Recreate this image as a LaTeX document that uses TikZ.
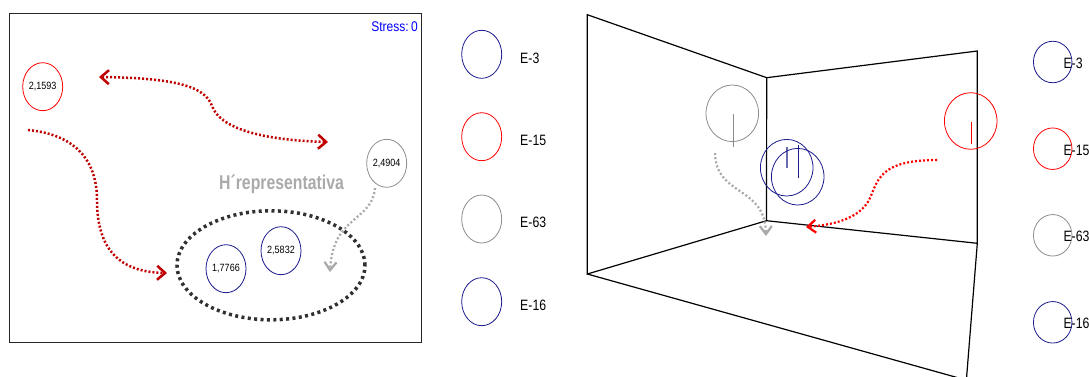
\documentclass[tikz,border=0pt]{standalone}
\usepackage{fontspec}
\setmainfont{Liberation Sans}
\newfontfamily\legfont{Liberation Sans}[FakeStretch=0.82]
\newfontfamily\numfont{Liberation Sans}[FakeStretch=0.86]
\newfontfamily\hfont{Liberation Sans Bold}[FakeStretch=0.79]
\usetikzlibrary{arrows.meta,shapes.geometric,calc}
\definecolor{navy}{HTML}{1A1A8C}
\definecolor{slate}{HTML}{6A6AAE}
\definecolor{darkred}{HTML}{C00000}
\definecolor{brightred}{HTML}{FF0000}
\definecolor{midgray}{HTML}{8C8C8C}
\definecolor{lightgray}{HTML}{AAAAAA}
\definecolor{dotblack}{HTML}{303030}
\definecolor{framegray}{HTML}{262626}
\begin{document}
\begin{tikzpicture}[x=1bp,y=-1bp,
  ell/.style={ellipse,draw,inner sep=0pt,minimum width=40bp,minimum height=48bp,line width=0.8bp},
  bigell/.style={ellipse,draw,inner sep=0pt,minimum width=52.6bp,minimum height=56.6bp,line width=0.8bp},
  smallell/.style={ellipse,draw,inner sep=0pt,minimum width=38.5bp,minimum height=41.5bp,line width=0.8bp},
  numtxt/.style={font=\numfont\fontsize{10.5bp}{12bp}\selectfont},
  legtxt/.style={anchor=west,inner sep=0pt,font=\legfont\fontsize{15bp}{17bp}\selectfont},
  frame/.style={line width=1bp,draw=framegray},
  reddots/.style={draw=darkred,line width=2.5bp,dash pattern=on 2bp off 2bp},
  brreddots/.style={draw=brightred,line width=2.2bp,dash pattern=on 2bp off 2bp},
  graydots/.style={draw=lightgray,line width=2.3bp,dash pattern=on 2bp off 2.2bp},
  barbtip/.tip={Straight Barb[length=8bp,width=14bp]},
  smallbarb/.tip={Straight Barb[length=8bp,width=12bp]}
]
\useasboundingbox (0,0) rectangle (1089,376);
\clip (0,0) rectangle (1089,376);

% ---------- left panel ----------
\draw[frame] (9,13) rectangle (421,342);
\node[anchor=east,inner sep=0pt,text=blue,font=\numfont\fontsize{14bp}{16bp}\selectfont] (stress) at (418,26.5) {Stress:\,0};

\node[ell,draw=brightred,numtxt] (e15) at (42.7,86.7) {2,1593};
\node[ell,draw=midgray,numtxt] (e63) at (386.7,163.3) {2,4904};
\node[ell,draw=navy,numtxt] (e3) at (226,268.7) {1,7766};
\node[ell,draw=navy,numtxt] (e16) at (281,250.7) {2,5832};

\node[ellipse,draw=dotblack,line width=3.5bp,dash pattern=on 3bp off 3.4bp,inner sep=0pt,minimum width=188bp,minimum height=109bp] (group) at (271,265.3) {};

\node[text=lightgray,inner sep=0pt,font=\hfont\fontsize{20bp}{24bp}\selectfont] (hrep) at (281.5,184) {H´representativa};

\coordinate (a1) at (99,77);
\coordinate (a1m) at (212,106);
\coordinate (a2) at (328,142);
\draw[reddots,barbtip-barbtip] (a1) .. controls (170,78) and (205,85) .. (a1m) .. controls (220,128) and (260,140) .. (a2);

\coordinate (b1) at (28,130);
\coordinate (b1m) at (97,200);
\coordinate (b2) at (167,273);
\draw[reddots,-barbtip] (b1) .. controls (80,135) and (97,165) .. (b1m) .. controls (97,250) and (120,272) .. (b2);

\coordinate (c1) at (375,188);
\coordinate (c2) at (330,272);
\draw[graydots,-smallbarb] (c1) .. controls (372,222) and (333,215) .. (c2);

% ---------- left legend ----------
\node[ell,draw=navy] (l3) at (481.7,54.3) {};
\node[ell,draw=brightred] (l15) at (481.7,136.7) {};
\node[ell,draw=midgray] (l63) at (481.7,219) {};
\node[ell,draw=navy] (l16) at (481.7,301.7) {};
\node[legtxt] (t3) at (520,58) {E-3};
\node[legtxt] (t15) at (520,140) {E-15};
\node[legtxt] (t63) at (520,222.5) {E-63};
\node[legtxt] (t16) at (520,305) {E-16};

% ---------- right panel (3D box) ----------
\coordinate (p1) at (587.3,14.7);
\coordinate (p2) at (766.7,77.7);
\coordinate (p3) at (766.5,220.7);
\coordinate (p4) at (587.3,274);
\coordinate (p5) at (977.3,51);
\coordinate (p6) at (977.3,243.3);
\coordinate (f1) at (951.7,376);
\coordinate (f2) at (966.7,376);
\draw[line width=1.2bp] (p1) -- (p4) -- (p3) -- (p2) -- cycle;
\draw[line width=1.2bp] (p2) -- (p5) -- (p6) -- (p3);
\draw[line width=1.2bp] (p4) -- ($(p4)!1.09!(f1)$);
\draw[line width=1.2bp] (p6) -- ($(p6)!1.2!(f2)$);

\node[bigell,draw=midgray] (r63) at (732.3,113.3) {};
\draw[midgray,line width=0.9bp] (733,114.3) -- (733,146.7);
\node[bigell,draw=navy] (r3) at (786.7,167.7) {};
\draw[slate,line width=1.2bp] (787,146.7) -- (787,168.3);
\node[bigell,draw=navy] (r16) at (797.7,176.7) {};
\draw[navy,line width=1bp] (798.3,145) -- (798.3,177.7);
\node[bigell,draw=brightred] (r15) at (970.7,121) {};
\draw[brightred,line width=1bp] (971,121.7) -- (971,144);

\coordinate (d1) at (937,160);
\coordinate (d1m) at (870,198);
\coordinate (d2) at (806,227);
\draw[brreddots,-{Straight Barb[length=8bp,width=13bp]}] (d1) .. controls (880,160) and (878,180) .. (d1m) .. controls (860,220) and (830,225) .. (d2);

\coordinate (g1) at (715,153);
\coordinate (g2) at (766,236);
\draw[graydots,-smallbarb] (g1) .. controls (716,197) and (765,185) .. (g2);

% ---------- right legend ----------
\node[smallell,draw=navy] (q3) at (1052.7,62) {};
\node[smallell,draw=brightred] (q15) at (1052.7,148.7) {};
\node[smallell,draw=midgray] (q63) at (1052.7,235.3) {};
\node[smallell,draw=navy] (q16) at (1052.7,322.3) {};
\node[legtxt] (u3) at (1063.3,63) {E-3};
\node[legtxt] (u15) at (1063.3,150) {E-15};
\node[legtxt] (u63) at (1063.3,236.5) {E-63};
\node[legtxt] (u16) at (1063.3,323.5) {E-16};
\end{tikzpicture}
\end{document}
